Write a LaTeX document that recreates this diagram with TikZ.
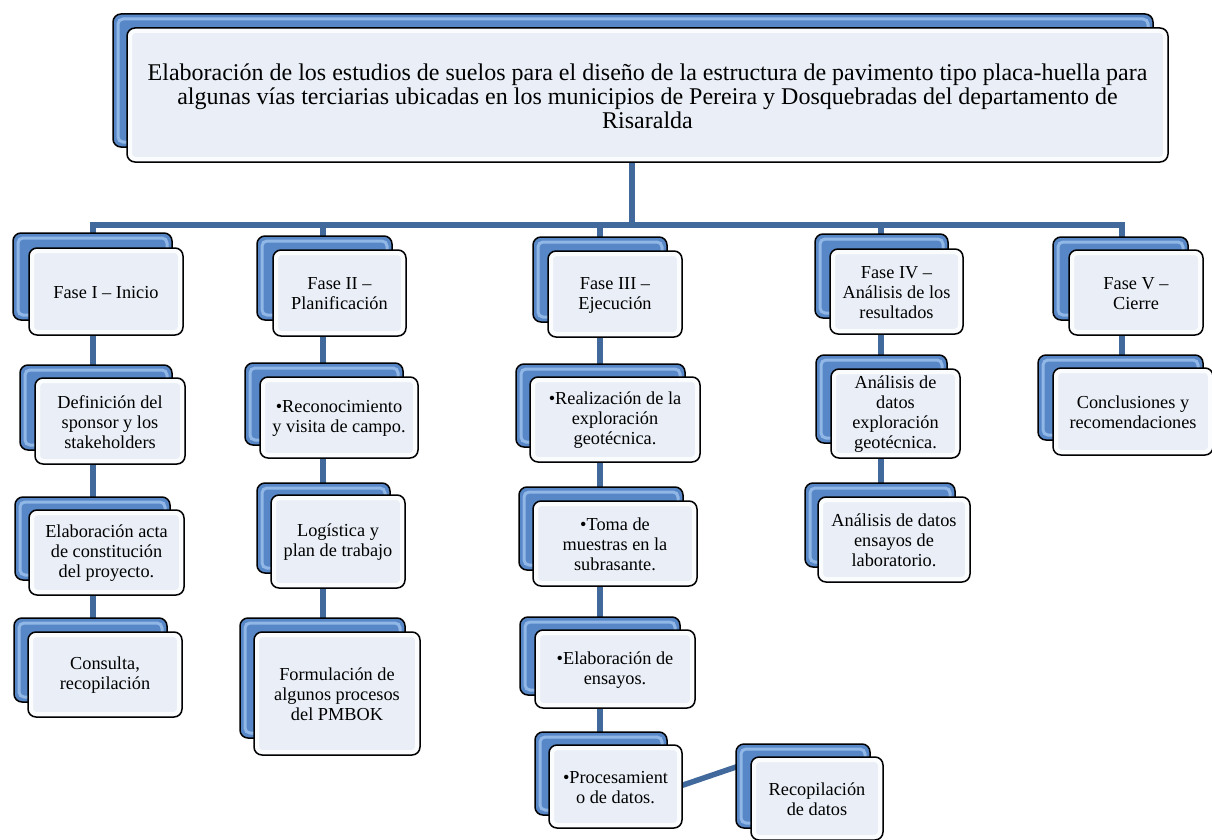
\documentclass[tikz,border=0pt]{standalone}
\usepackage{fontspec}
\setmainfont{Liberation Serif}
\usetikzlibrary{fit,backgrounds,calc}
\definecolor{linkblue}{HTML}{41699B}
\definecolor{backfill}{HTML}{5787C7}
\definecolor{backglow}{HTML}{9CC0EC}
\definecolor{frontfill}{HTML}{EAEFF7}

\tikzset{
  backbox/.style={rounded corners=8pt, draw=black, line width=1.5pt, fill=backfill,
    inner sep=0pt,
    path picture={\draw[backglow, line width=3pt, rounded corners=5pt, opacity=0.85]
      ([shift={(5pt,-5pt)}]path picture bounding box.north west) rectangle
      ([shift={(-5pt,5pt)}]path picture bounding box.south east);}},
  frontbox/.style={rounded corners=8pt, draw=black, line width=1.5pt, fill=frontfill,
    inner sep=0pt,
    path picture={\draw[white, line width=4pt, rounded corners=5pt, opacity=0.85]
      ([shift={(3pt,-3pt)}]path picture bounding box.north west) rectangle
      ([shift={(-3pt,3pt)}]path picture bounding box.south east);}},
  cardtext/.style={inner sep=0pt, align=center, text=black,
    font=\fontsize{18.3}{20}\selectfont},
  titletext/.style={cardtext, font=\fontsize{24}{24}\selectfont},
  linkline/.style={draw=linkblue, line width=5.5pt}
}

% a blue back card with a light card laid over it, and its caption
\newcommand\cardpair[4]{%
  \node[backbox, fit={#2}] (#1B) {};
  \node[frontbox, fit={#3}] (#1F) {};
  \node[cardtext] (#1T) at ([yshift=-1pt]#1F.center) {#4};
}

\begin{document}
\begin{tikzpicture}[x=1pt, y=-1pt]
\useasboundingbox (0,0) rectangle (1212,840);

% title
\node[backbox, fit={(113,14) (1153,147)}] (titleB) {};
\node[frontbox, fit={(127,28) (1168,162)}] (titleF) {};
\node[titletext] (titleT) at ([yshift=-1pt]titleF.center)
  {Elaboración de los estudios de suelos para el diseño de la estructura de pavimento tipo placa-huella para\\
   algunas vías terciarias ubicadas en los municipios de Pereira y Dosquebradas del departamento de\\
   Risaralda};

% phases
\cardpair{p1}{(13,233) (172,320)}{(29,248) (183,335)}{Fase I – Inicio}
\cardpair{p2}{(257,236) (392,320)}{(273,250) (406,336)}{Fase II –\\ Planificación}
\cardpair{p3}{(533,237) (667,322)}{(548,251) (682,337)}{Fase III –\\ Ejecución}
\cardpair{p4}{(815,234) (948,318)}{(830,249) (963,334)}{Fase IV –\\ Análisis de los\\ resultados}
\cardpair{p5}{(1053,237) (1188,320)}{(1069,250) (1203,335)}{Fase V –\\ Cierre}

% phase I
\cardpair{ia}{(20,365) (172,450)}{(35,378) (185,464)}{Definición del\\ sponsor y los\\ stakeholders}
\cardpair{ib}{(15,497) (170,580)}{(29,510) (184,595)}{Elaboración acta\\ de constitución\\ del proyecto.}
\cardpair{ic}{(14,618) (167,702)}{(28,632) (182,717)}{Consulta,\\ recopilación}

% phase II
\cardpair{iia}{(245,363) (403,445)}{(260,377) (418,458)}{•Reconocimiento\\ y visita de campo.}
\cardpair{iib}{(257,483) (390,573)}{(271,495) (405,588)}{Logística y\\ plan de trabajo}
\cardpair{iic}{(240,618) (405,738)}{(254,632) (420,755)}{Formulación de\\ algunos procesos\\ del PMBOK}

% phase III
\cardpair{iiia}{(516,364) (685,447)}{(530,377) (700,462)}{•Realización de la\\ exploración\\ geotécnica.}
\cardpair{iiib}{(519,487) (683,570)}{(533,501) (697,586)}{•Toma de\\ muestras en la\\ subrasante.}
\cardpair{iiic}{(520,617) (680,695)}{(535,630) (695,708)}{•Elaboración de\\ ensayos.}
\cardpair{iiid}{(535,732) (667,815)}{(549,745) (682,828)}{•Procesamient\\ o de datos.}
\cardpair{iiie}{(736,744) (870,828)}{(751,757) (883,840)}{Recopilación\\ de datos}

% phase IV
\cardpair{iva}{(816,355) (947,443)}{(831,369) (960,458)}{Análisis de\\ datos\\ exploración\\ geotécnica.}
\cardpair{ivb}{(805,483) (955,567)}{(818,497) (970,582)}{Análisis de datos\\ ensayos de\\ laboratorio.}

% phase V
\cardpair{va}{(1038,355) (1203,440)}{(1053,368) (1213,455)}{Conclusiones y\\ recomendaciones}

% bus points
\coordinate (busT) at (632,225);
\coordinate (busA) at (93,225);
\coordinate (busB) at (323,225);
\coordinate (busC) at (600,225);
\coordinate (busD) at (881,225);
\coordinate (busE) at (1122,225);

\begin{scope}[on background layer]
  \draw[linkline] (busT |- titleF.center) -- (busT);
  \draw[linkline, line cap=rect] (busA) -- (busE);
  \draw[linkline] (busA) -- (busA |- icB.center);
  \draw[linkline] (busB) -- (busB |- iicB.center);
  \draw[linkline] (busC) -- (busC |- iiidB.center);
  \draw[linkline] (busD) -- (busD |- ivbB.center);
  \draw[linkline] (busE) -- (busE |- vaB.center);
  \draw[linkline] ($(iiidB.east)+(-30,27)$) -- ($(iiieB.west)+(30,-29)$);
\end{scope}
\end{tikzpicture}
\end{document}
